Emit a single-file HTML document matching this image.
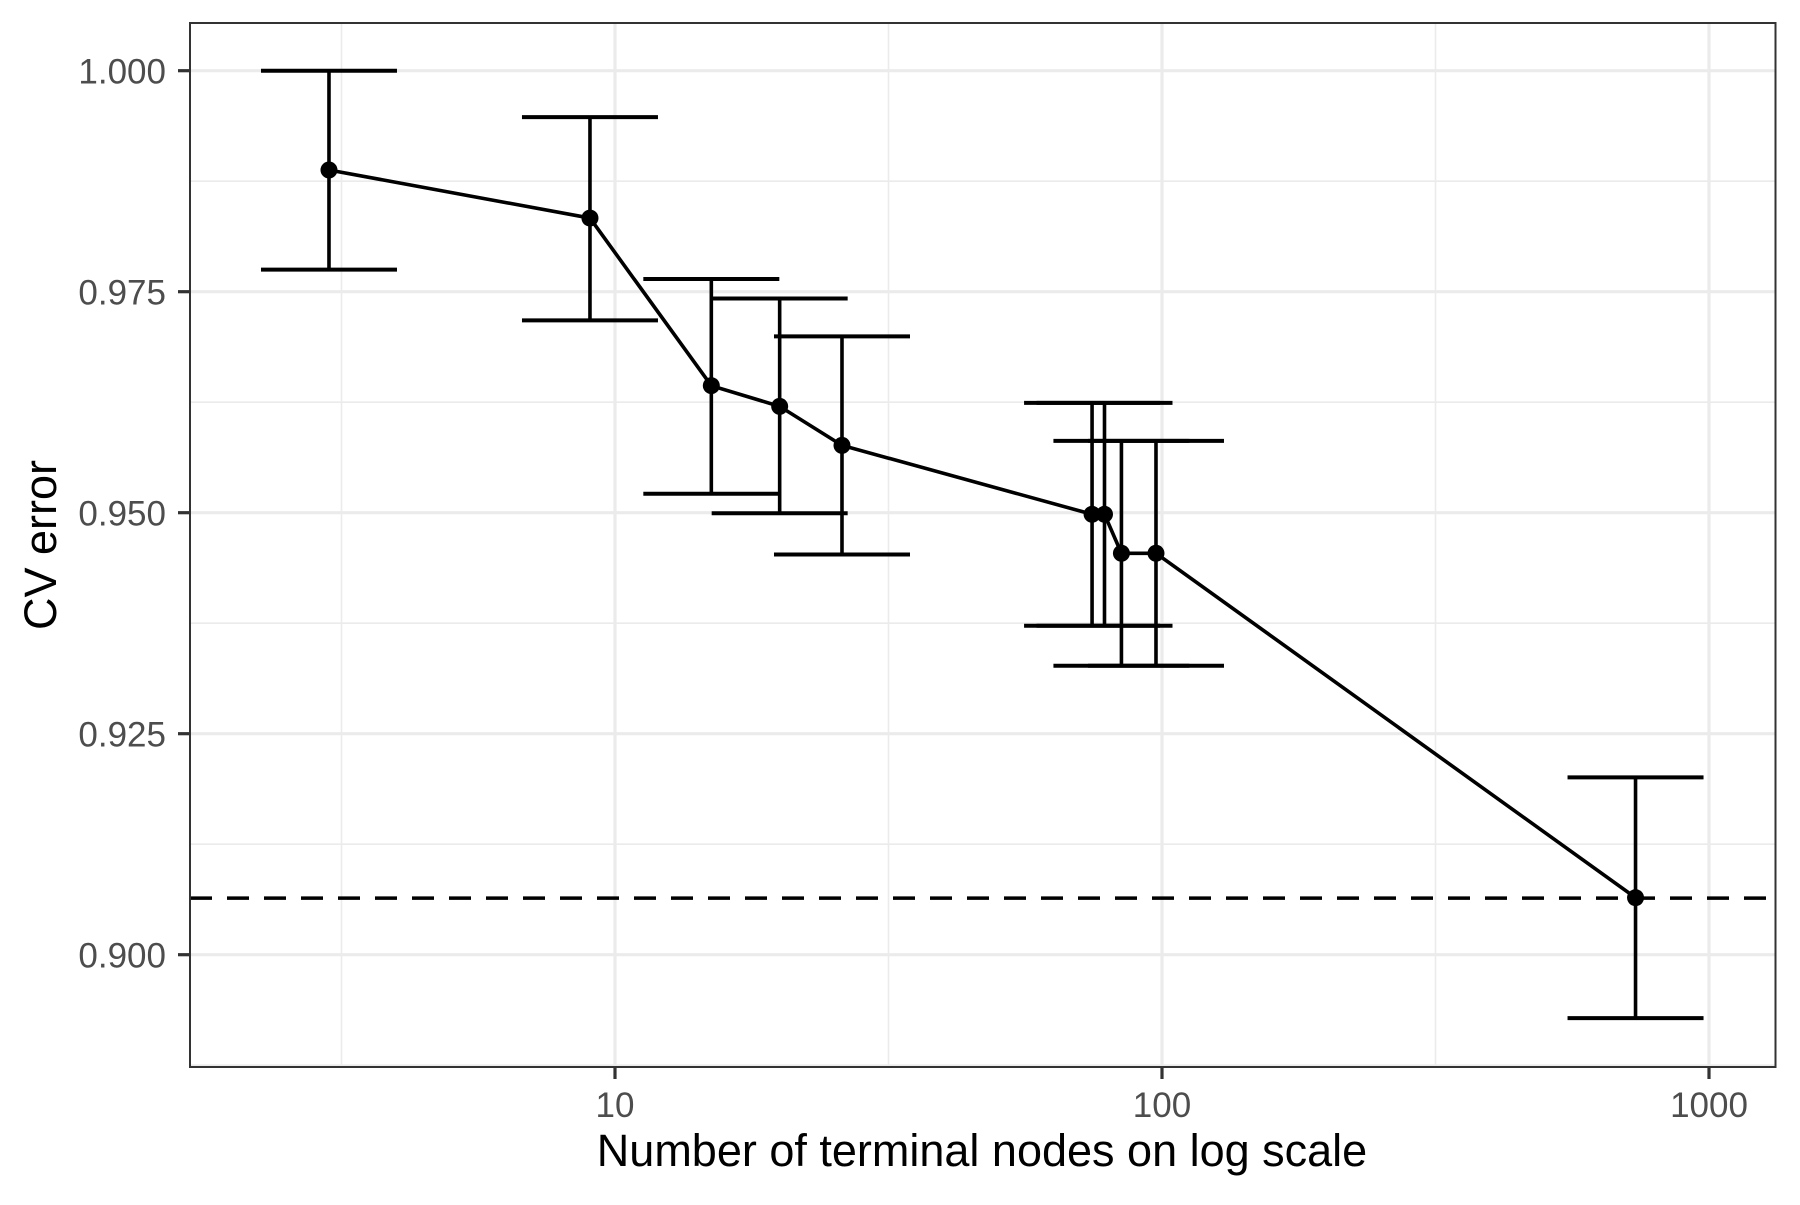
<!DOCTYPE html>
<html><head><meta charset="utf-8"><style>
html,body{margin:0;padding:0;background:#fff;}
svg text{font-family:"Liberation Sans",sans-serif;}
</style></head><body>
<svg id="chart" width="1800" height="1200" viewBox="0 0 1800 1200" xmlns="http://www.w3.org/2000/svg">
<rect width="1800" height="1200" fill="#fff"/>
<g id="grid"></g>
<g id="marks"></g>
<rect x="190" y="23" width="1585.5" height="1044" fill="none" stroke="#333" stroke-width="2"/>
<g id="axes"></g>
<text x="982" y="1166" font-size="45" text-anchor="middle" fill="#000">Number of terminal nodes on log scale</text>
<text transform="translate(56,545) rotate(-90)" font-size="45" text-anchor="middle" fill="#000">CV error</text>
</svg>
<script>
const nodes = [3, 9, 15, 20, 26, 74.5, 78.5, 84.3, 97.5, 734];
const cvError = [0.98877, 0.98333, 0.96437, 0.96203, 0.95762, 0.94982, 0.94982, 0.94541, 0.94541, 0.90645];
const upper = [1.0000, 0.99475, 0.97644, 0.97423, 0.96995, 0.96242, 0.96242, 0.95813, 0.95813, 0.92006];
const lower = [0.9775, 0.97176, 0.95215, 0.94994, 0.94527, 0.93721, 0.93721, 0.93268, 0.93268, 0.89283];
const refLine = [0.9064];
const xTicks = [10, 100, 1000];
const xTickLabels = ["10", "100", "1000"];
const xMinor = [3.1623, 31.623, 316.23];
const yTicks = [0.900, 0.925, 0.950, 0.975, 1.000];
const yTickLabels = ["0.900", "0.925", "0.950", "0.975", "1.000"];
const yMinor = [0.8875, 0.9125, 0.9375, 0.9625, 0.9875];

const NS = "http://www.w3.org/2000/svg";
const PL = 190, PR = 1775.5, PT = 23, PB = 1067;
function xs(v){ return 615 + (Math.log10(v) - 1) * 547; }
function ys(v){ return 70.7 + (1 - v) * 8840; }
function mk(tag, attrs, parent){
  const e = document.createElementNS(NS, tag);
  for (const k in attrs) e.setAttribute(k, attrs[k]);
  parent.appendChild(e);
  return e;
}
const grid = document.getElementById('grid');
const marks = document.getElementById('marks');
const axes = document.getElementById('axes');

yMinor.forEach(v => {
  if (ys(v) < PT || ys(v) > PB) return;
  const l = mk('line', {x1:PL, x2:PR, y1:ys(v), y2:ys(v), stroke:'#ebebeb', 'stroke-width':1.6}, grid);
  
  
});
xMinor.forEach(v => {
  const l = mk('line', {x1:xs(v), x2:xs(v), y1:PT, y2:PB, stroke:'#ebebeb', 'stroke-width':1.6}, grid);
  
  
});
yTicks.forEach((v, i) => {
  const l = mk('line', {x1:PL, x2:PR, y1:ys(v), y2:ys(v), stroke:'#ebebeb', 'stroke-width':3.2}, grid);
  
  
  const t = mk('line', {x1:178, x2:PL, y1:ys(v), y2:ys(v), stroke:'#333', 'stroke-width':3.2}, axes);
  
  
  const tx = mk('text', {x:166, y:ys(v) + 13, 'font-size':35, 'text-anchor':'end', fill:'#4d4d4d'}, axes);
  tx.textContent = yTickLabels[i];
  
  
});
xTicks.forEach((v, i) => {
  const l = mk('line', {x1:xs(v), x2:xs(v), y1:PT, y2:PB, stroke:'#ebebeb', 'stroke-width':3.2}, grid);
  
  
  const t = mk('line', {x1:xs(v), x2:xs(v), y1:PB, y2:PB + 12, stroke:'#333', 'stroke-width':3.2}, axes);
  
  
  const tx = mk('text', {x:xs(v), y:1117, 'font-size':35, 'text-anchor':'middle', fill:'#4d4d4d'}, axes);
  tx.textContent = xTickLabels[i];
  
  
});

const ref = mk('line', {x1:PL, x2:PR, y1:ys(refLine[0]), y2:ys(refLine[0]), stroke:'#000', 'stroke-width':3.6, 'stroke-dasharray':'22 15'}, marks);



const CAP = 68;
nodes.forEach((n, i) => {
  const x = xs(n);
  const g = mk('g', {stroke:'#000', 'stroke-width':3.6}, marks);
  
  
  mk('line', {x1:x, x2:x, y1:ys(upper[i]), y2:ys(lower[i])}, g);
  mk('line', {x1:x - CAP, x2:x + CAP, y1:ys(upper[i]), y2:ys(upper[i]), 'stroke-width':4}, g);
  mk('line', {x1:x - CAP, x2:x + CAP, y1:ys(lower[i]), y2:ys(lower[i]), 'stroke-width':4}, g);
});
const pts = nodes.map((n, i) => xs(n) + ',' + ys(cvError[i])).join(' ');
const pl = mk('polyline', {points:pts, fill:'none', stroke:'#000', 'stroke-width':3.6}, marks);


nodes.forEach((n, i) => {
  const c = mk('circle', {cx:xs(n), cy:ys(cvError[i]), r:8.5, fill:'#000'}, marks);
  
  
});
</script>
</body></html>
